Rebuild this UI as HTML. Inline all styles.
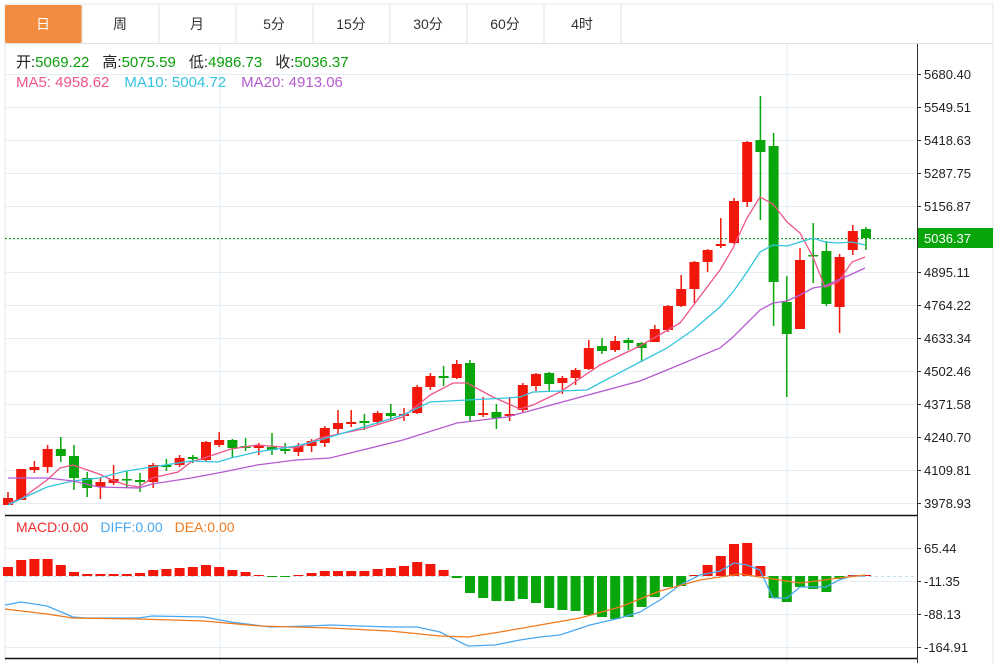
<!DOCTYPE html>
<html><head><meta charset="utf-8"><style>
html,body{margin:0;padding:0;background:#fff;width:1000px;height:663px;overflow:hidden}
body{font-family:"Liberation Sans","Noto Sans CJK SC",sans-serif}
</style></head><body>
<svg id="s" width="1000" height="663" xmlns="http://www.w3.org/2000/svg" font-family="Liberation Sans, Noto Sans CJK SC, sans-serif">
<rect x="0" y="0" width="1000" height="663" fill="#fff"/>
<rect x="5" y="4" width="988" height="660" fill="none" stroke="#e2e6ea"/>
<rect x="5" y="5" width="77" height="38" fill="#f28c3e" rx="2"/>
<g stroke="#dde2e6"><line x1="82" y1="5" x2="82" y2="43"/><line x1="159" y1="5" x2="159" y2="43"/><line x1="236" y1="5" x2="236" y2="43"/><line x1="313" y1="5" x2="313" y2="43"/><line x1="390" y1="5" x2="390" y2="43"/><line x1="467" y1="5" x2="467" y2="43"/><line x1="544" y1="5" x2="544" y2="43"/><line x1="621" y1="5" x2="621" y2="43"/><line x1="5" y1="43.5" x2="993" y2="43.5"/></g>
<g font-size="14" text-anchor="middle" fill="#333">
<text x="43" y="29" fill="#fff">日</text><text x="120" y="29">周</text><text x="197" y="29">月</text><text x="274" y="29">5分</text><text x="351" y="29">15分</text><text x="428" y="29">30分</text><text x="505" y="29">60分</text><text x="582" y="29">4时</text>
</g>
<g id="grid" stroke="#e4edf3" stroke-width="1"></g>
<line x1="220" y1="44" x2="220" y2="663" stroke="#e4edf3"/>
<line x1="787" y1="44" x2="787" y2="663" stroke="#e4edf3"/>
<line x1="917.5" y1="44" x2="917.5" y2="663" stroke="#333"/>
<line x1="5" y1="515.5" x2="917" y2="515.5" stroke="#111" stroke-width="1.5"/>
<line x1="5" y1="658.5" x2="917" y2="658.5" stroke="#111" stroke-width="1.5"/>
<g id="axis" font-size="13" fill="#222"></g>
<g font-size="15">
<text x="16" y="67"><tspan fill="#222">开:</tspan><tspan fill="#0a9e0a">5069.22</tspan><tspan fill="#222" dx="13">高:</tspan><tspan fill="#0a9e0a">5075.59</tspan><tspan fill="#222" dx="13">低:</tspan><tspan fill="#0a9e0a">4986.73</tspan><tspan fill="#222" dx="13">收:</tspan><tspan fill="#0a9e0a">5036.37</tspan></text>
<text x="16" y="87"><tspan fill="#ee5588">MA5: 4958.62</tspan><tspan fill="#33c4e0" dx="15">MA10: 5004.72</tspan><tspan fill="#b55bd0" dx="15">MA20: 4913.06</tspan></text>
</g>
<g font-size="14"><text x="16" y="532"><tspan fill="#ee2a2a">MACD:0.00</tspan><tspan fill="#4aa8f0" dx="12">DIFF:0.00</tspan><tspan fill="#f07a1e" dx="12">DEA:0.00</tspan></text></g>
<line x1="5" y1="238.5" x2="917" y2="238.5" stroke="#0a9e0a" stroke-dasharray="2,2"/>
<line x1="5" y1="576.5" x2="917" y2="576.5" stroke="#b8dff0" stroke-dasharray="3,3"/>
<g id="c"></g>
<rect x="918" y="228" width="75" height="20" fill="#08a60b"/>
<text x="924" y="243" font-size="13" fill="#fff">5036.37</text>
</svg>
<script>
const NS="http://www.w3.org/2000/svg";
function el(p,t,a){const e=document.createElementNS(NS,t);for(const k in a)e.setAttribute(k,a[k]);p.appendChild(e);return e;}
const g=document.getElementById('grid'),ax=document.getElementById('axis'),c=document.getElementById('c');
const py=[74,107,140,173,206,239,272,305,338,371,404,437,470,503];
const pl=["5680.40","5549.51","5418.63","5287.75","5156.87","","4895.11","4764.22","4633.34","4502.46","4371.58","4240.70","4109.81","3978.93"];
py.forEach((y,i)=>{el(g,'line',{x1:5,y1:y+.5,x2:917,y2:y+.5});el(ax,'line',{x1:917,y1:y+.5,x2:921,y2:y+.5,stroke:'#333'});if(pl[i]){const t=el(ax,'text',{x:924,y:y+5});t.textContent=pl[i];}});
const my=[548,581,614,647],ml=["65.44","-11.35","-88.13","-164.91"];
my.forEach((y,i)=>{el(g,'line',{x1:5,y1:y+.5,x2:917,y2:y+.5});el(ax,'line',{x1:917,y1:y+.5,x2:921,y2:y+.5,stroke:'#333'});const t=el(ax,'text',{x:924,y:y+5});t.textContent=ml[i];});
const R='#f2170b',G='#08a60b';
const K=[
['r',498,505,492,505],['r',469,500,469,500],['r',467,470,461,473],['r',449,467,445,473],['g',449,456,437,462],
['g',456,478,445,490],['g',478,488,472,497],['r',482,487,478,499],['r',479,483,465,485],['g',479,480,471,488],
['g',480,482,473,492],['r',465,482,463,488],['g',465,467,459,471],['r',458,465,455,467],['g',457,459,455,463],
['r',442,460,441,461],['r',440,445,432,447],['g',440,448,439,458],['g',446,448,438,451],['r',445,448,443,455],
['g',447,450,433,455],['g',449,451,443,454],['r',446,452,443,456],['r',441,446,439,452],['r',428,443,426,447],
['r',423,429,410,434],['r',422,424,410,427],['g',421,423,414,430],['r',413,422,411,424],['g',413,416,404,421],
['r',414,416,408,421],['r',387,413,385,414],['r',376,387,373,390],['g',376,378,366,386],['r',364,378,360,379],
['g',363,416,360,421],['r',413,415,397,417],['g',412,418,404,429],['r',414,416,397,421],['r',385,410,383,412],
['r',374,386,373,391],['g',373,384,372,392],['r',378,383,376,394],['r',370,378,368,385],['r',348,369,340,370],
['g',346,351,338,354],['r',341,350,336,352],['g',340,343,338,350],['g',343,348,342,362],['r',329,342,325,342],
['r',306,330,305,332],['r',289,306,275,307],['r',262,289,261,303],['r',250,262,249,272],['r',244,246,218,248],
['r',201,243,198,244],['r',142,202,141,207],['g',140,152,96,220],['g',146,282,133,326],['g',302,334,276,397],
['r',260,329,248,329],['g',255,256,223,283],['g',251,304,241,306],['r',257,307,254,333],['r',231,250,225,255],
['g',229,238,227,250]];
const H=[567,560,559,559,565,572,574,574,574,574,573,570,569,568,567,565,567,570,572,575,577,577,575,573,571,571,571,571,569,568,566,562,564,570,578,593,598,601,601,599,603,608,610,611,615,617,619,617,607,597,587,586,575,565,556,544,543,566,598,602,587,589,592,579,575,575];
K.forEach((k,i)=>{const x=8+13.2*i,col=k[0]=='r'?R:G;
el(c,'line',{x1:x,y1:k[3],x2:x,y2:k[4],stroke:col,'stroke-width':1.5});
el(c,'rect',{x:x-5,y:k[1],width:10,height:Math.max(1.5,k[2]-k[1]),fill:col});
const h=H[i],z=576;el(c,'rect',{x:x-5,y:Math.min(h,z),width:10,height:Math.max(1,Math.abs(h-z)),fill:h<z?R:G});});
function pline(pts,col){el(c,'polyline',{points:pts.map(p=>p.join(',')).join(' '),fill:'none',stroke:col,'stroke-width':1.3});}
pline([[8,503],[21,499],[47,480],[60,468],[73,465],[99,474],[112,480],[126,485],[139,487],[152,478],[178,472],[191,462],[204,458],[231,449],[257,445],[270,446],[296,448],[309,443],[320,438],[363,429],[403,417],[430,395],[453,383],[467,383],[493,397],[520,409],[533,405],[560,392],[600,365],[640,346],[680,323],[720,270],[733,248],[747,218],[760,197],[773,204],[787,222],[800,233],[813,257],[825,287],[838,282],[852,262],[865,257]],'#ee5588');
pline([[8,505],[47,487],[73,481],[99,478],[126,471],[152,467],[191,461],[218,462],[231,458],[257,452],[296,446],[320,440],[370,425],[403,415],[430,402],[467,400],[507,398],[520,397],[533,392],[587,390],[600,383],[640,362],[667,348],[693,330],[720,307],[733,292],[747,272],[760,252],[773,245],[787,246],[800,242],[813,238],[825,242],[838,243],[852,242],[865,245]],'#33c4e0');
pline([[8,478],[47,478],[73,481],[99,487],[139,488],[152,484],[191,478],[218,473],[257,465],[296,460],[330,458],[403,440],[457,423],[507,417],[640,381],[667,370],[720,348],[733,337],[747,323],[760,310],[773,303],[787,301],[800,295],[813,288],[825,286],[838,280],[852,274],[865,268]],'#b55bd0');
pline([[5,605],[21,602],[47,606],[73,617],[86,618],[139,618],[152,616],[204,617],[231,622],[270,627],[309,626],[330,625],[360,626],[390,627],[417,627],[440,632],[468,646],[495,645],[520,640],[540,637],[560,635],[590,625],[620,618],[640,612],[660,600],[680,585],[700,575],[720,571],[734,563],[747,565],[760,570],[773,598],[787,598],[800,587],[813,587],[826,587],[839,580],[852,576],[865,576]],'#4aa8f0');
pline([[5,609],[47,614],[73,618],[139,619],[204,621],[260,626],[330,628],[390,631],[440,636],[468,637],[500,632],[540,625],[580,618],[620,607],[660,591],[700,580],[740,574],[780,580],[800,583],[840,578],[865,575]],'#f07a1e');
</script>
</body></html>
